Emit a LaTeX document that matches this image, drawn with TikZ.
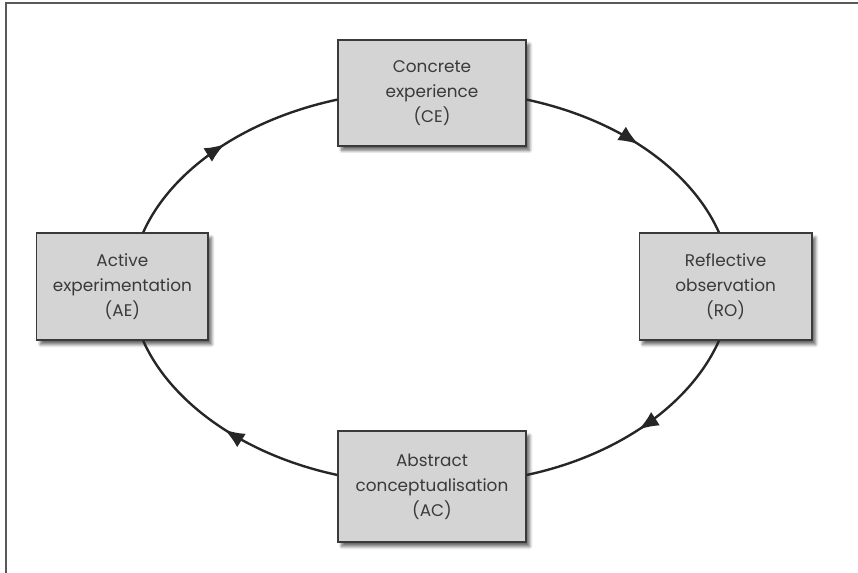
\documentclass[tikz,border=0pt]{standalone}
\usepackage{fontspec}
\setmainfont{Poppins}
\usetikzlibrary{arrows.meta,decorations.markings,shadows.blur}
\definecolor{boxgrey}{HTML}{D4D4D4}
\definecolor{inkgrey}{HTML}{3A3A3A}
\begin{document}
\begin{tikzpicture}[
		stage/.style={draw=inkgrey, line width=0.9pt, fill=boxgrey, text=inkgrey, align=center,
			font=\fontsize{12}{17.8}\selectfont,
			blur shadow={shadow xshift=0.09cm, shadow yshift=-0.11cm, shadow blur steps=6, shadow opacity=60}},
		loopline/.style={draw=black!85, line width=1.7pt, postaction={decorate},
			decoration={markings, mark=at position 0.5 with {\arrow{Latex[length=0.5cm,width=0.4cm]}}}}
	]
			\useasboundingbox (0,0) rectangle (21.45,14.325);
			\draw[line width=1.4pt, gray!70!black] (21.45,14.25) -- (0.15,14.25) -- (0.15,0);
			\node[stage, minimum width=4.7cm, minimum height=2.65cm] (CE) at (10.8,12.0) {Concrete\\experience\\(CE)};
			\node[stage, minimum width=4.32cm, minimum height=2.675cm] (RO) at (18.14,7.16) {Reflective\\observation\\(RO)};
			\node[stage, minimum width=4.7cm, minimum height=2.775cm] (AC) at (10.8,2.16) {Abstract\\conceptualisation\\(AC)};
			\node[stage, minimum width=4.28cm, minimum height=2.675cm] (AE) at (3.06,7.16) {Active\\experimentation\\(AE)};
			\draw[loopline] (CE.-4) to[out=-12, in=114, out distance=2.38cm, in distance=1.7cm] (RO.97);
			\draw[loopline] (RO.-97) to[out=-114, in=12, out distance=1.7cm, in distance=2.38cm] (AC.7);
			\draw[loopline] (AC.173) to[out=168, in=-66, out distance=2.38cm, in distance=1.7cm] (AE.-69);
			\draw[loopline] (AE.69) to[out=66, in=192, out distance=1.7cm, in distance=2.38cm] (CE.184);
		\end{tikzpicture}
\end{document}
